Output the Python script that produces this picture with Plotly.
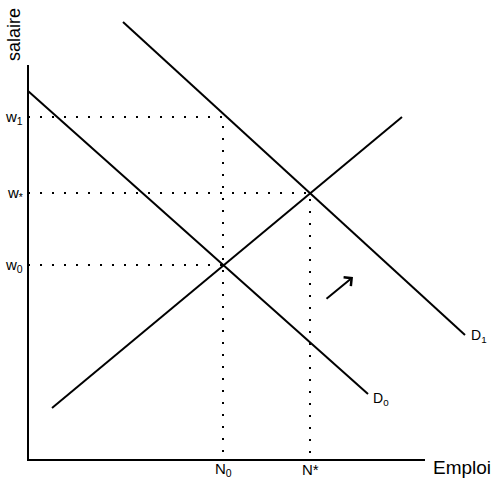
import plotly.graph_objects as go

# Equilibrium levels (employment N, wage w)
N_levels = {"N0": 195, "N*": 282}
w_levels = {"w1": 343, "w*": 267, "w0": 195}

# Curves: endpoints (employment, wage)
D0_N = [0, 340]
D0_w = [369, 66]
D1_N = [95, 437]
D1_w = [438, 125]
S_N = [24, 374]
S_w = [52, 343]

# Axis extents
N_max = 397
w_max = 395

# Shift arrow (tail -> head)
arrow_N = [297, 325]
arrow_w = [160, 183]

FONT = "Liberation Sans, Arial, sans-serif"
fig = go.Figure()

solid = dict(color="black", width=2)
dotted = dict(color="black", width=2, dash="2px,10px")

# axes
fig.add_trace(go.Scatter(x=[0, 0, N_max], y=[w_max, 0, 0], mode="lines", line=solid))

# guide lines
fig.add_trace(go.Scatter(x=[0, N_levels["N0"], N_levels["N0"]], y=[w_levels["w1"], w_levels["w1"], 0],
                         mode="lines", line=dotted))
fig.add_trace(go.Scatter(x=[0, N_levels["N*"], N_levels["N*"]], y=[w_levels["w*"], w_levels["w*"], 0],
                         mode="lines", line=dotted))
fig.add_trace(go.Scatter(x=[0, N_levels["N0"]], y=[w_levels["w0"], w_levels["w0"]],
                         mode="lines", line=dotted))

# curves
for xs, ys in [(D0_N, D0_w), (D1_N, D1_w), (S_N, S_w)]:
    fig.add_trace(go.Scatter(x=xs, y=ys, mode="lines", line=solid))

fig.add_annotation(x=arrow_N[1], y=arrow_w[1], ax=arrow_N[0], ay=arrow_w[0],
                   xref="x", yref="y", axref="x", ayref="y", text="",
                   showarrow=True, arrowhead=4, arrowsize=1.1, arrowwidth=2, arrowcolor="black")

# text labels
fig.add_annotation(x=-14, y=w_max + 30, text="salaire", textangle=-90, showarrow=False,
                   font=dict(family=FONT, size=18, color="black"))
fig.add_annotation(x=N_max + 6, y=-7, text="Emploi", xanchor="left", showarrow=False,
                   font=dict(family=FONT, size=19, color="black"))
for name, lab in [("w1", "w<sub>1</sub>"), ("w*", "w<sub>*</sub>"), ("w0", "w<sub>0</sub>")]:
    fig.add_annotation(x=-3, y=w_levels[name], text=lab, xanchor="right", showarrow=False,
                       font=dict(family=FONT, size=15, color="black"))
for name, lab in [("N0", "N<sub>0</sub>"), ("N*", "N*")]:
    fig.add_annotation(x=N_levels[name], y=-9, text=lab, showarrow=False,
                       font=dict(family=FONT, size=15, color="black"))
fig.add_annotation(x=D0_N[1] + 3, y=D0_w[1] - 5, text="D<sub>0</sub>", xanchor="left", showarrow=False,
                   font=dict(family=FONT, size=14, color="black"))
fig.add_annotation(x=D1_N[1] + 4, y=D1_w[1] - 1, text="D<sub>1</sub>", xanchor="left", showarrow=False,
                   font=dict(family=FONT, size=14, color="black"))

fig.update_layout(
    width=497, height=478,
    margin=dict(l=0, r=0, t=0, b=0),
    paper_bgcolor="white", plot_bgcolor="white",
    showlegend=False,
    xaxis=dict(range=[-28, 469], visible=False, fixedrange=True),
    yaxis=dict(range=[-18, 460], visible=False, fixedrange=True),
)

fig.write_html("out.html")
